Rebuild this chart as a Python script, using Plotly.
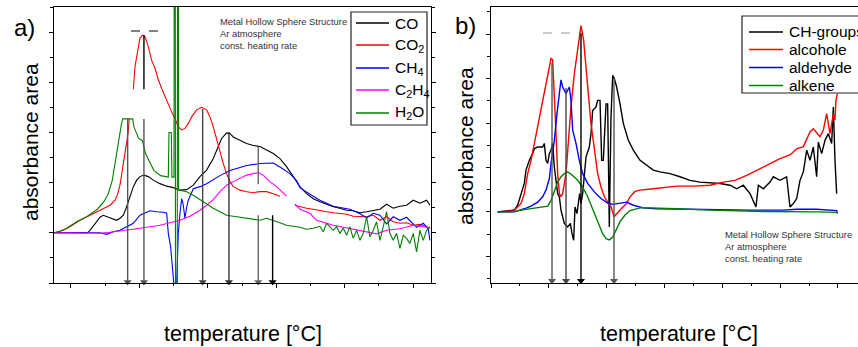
import plotly.graph_objects as go

W, H = 858, 347

# ---------------- panel a) : temperature [°C] , absorbance area [a.u.] ----------------
co_a = [(75.2,0), (123.9,0), (127.8,0.05), (135.1,0.19), (142.4,0.31), (147.2,0.35), (154.5,0.31),
        (161.8,0.27), (166.7,0.25), (171.6,0.29), (176.5,0.35), (181.3,0.52), (186.2,0.72), (191.1,0.92),
        (196,1.05), (200.8,1.12), (206.6,1.15), (213,1.12), (220.3,1.05), (230,0.98), (239.8,0.93),
        (249.5,0.90), (259.2,0.85), (269,0.86), (278.7,0.95), (288.4,1.12), (298.2,1.25), (307.9,1.48),
        (315.2,1.72), (320.1,1.88), (327.4,1.99), (332.3,1.98), (337.1,1.91), (346.9,1.85), (356.6,1.78),
        (366.3,1.74), (376.1,1.72), (385.8,1.65), (395.6,1.58), (405.3,1.48), (415,1.32), (424.8,1.12),
        (434.5,0.92), (444.2,0.78), (454,0.68), (463.7,0.62), (473.5,0.57), (483.2,0.52), (492.9,0.49),
        (502.7,0.45), (512.4,0.44), (522.2,0.40), (531.9,0.42), (541.6,0.45), (551.4,0.47), (561.1,0.57),
        (570.8,0.49), (580.6,0.53), (590.3,0.55), (600.1,0.65), (609.8,0.59), (619.6,0.65), (624.4,0.55)]

co2_a = [(75.2,0), (88.8,0.05), (98.5,0.12), (113.2,0.25), (127.8,0.35), (142.4,0.45), (157,0.55),
         (164.3,0.65), (167.7,0.75), (171.6,0.95), (175,1.24), (179.9,1.64), (183.3,1.97), (185.2,2.27),
         (188,None), (191.1,2.86), (193.5,3.31), (196.9,3.58), (200.8,3.88), (204.7,3.94), (208.1,3.91),
         (213,3.71), (217.8,3.44), (222.7,3.28), (227.6,3.05), (232.4,2.88), (237.3,2.71), (242.2,2.58),
         (247,2.41), (251.9,2.28), (256.8,2.11), (261.7,2.05), (266.5,2.08), (271.4,2.18), (276.3,2.31),
         (283.6,2.45), (290.9,2.50), (298.2,2.45), (303,2.31), (307.9,2.11), (312.8,1.85), (317.7,1.58),
         (322.5,1.38), (327.4,1.18), (332.3,1.02), (337.1,0.92), (346.9,0.85), (356.6,0.82), (366.3,0.80),
         (376.1,0.82), (385.8,0.82), (395.6,0.78), (405.3,0.73), (416,None), (427.2,0.55), (434.5,0.52),
         (444.2,0.49), (454,0.47), (463.7,0.44), (473.5,0.42), (483.2,0.40), (492.9,0.39), (502.7,0.37),
         (512.4,0.33), (522.2,0.32), (531.9,0.32), (541.6,0.35), (551.4,0.25), (561.1,0.32), (570.8,0.22),
         (580.6,0.19), (590.3,0.20), (600.1,0.15), (609.8,0.17), (619.6,0.12), (624.4,0.09)]

ch4_a = [(75.2,0), (142.4,0), (152.1,-0.03), (161.8,0.02), (171.6,0.05), (181.3,0.12), (191.1,0.19),
         (200.8,0.35), (210.5,0.42), (215.4,0.44), (225.1,0.42), (234.9,0.41), (239.8,0.39), (242.2,-0.01),
         (245.6,-0.28), (248,-0.61), (250.5,-1.05), (254.4,-1.05), (256.8,-0.01), (259.2,0.39), (261.7,0.68),
         (264.1,0.55), (266.5,0.29), (269,0.51), (271.4,0.65), (278.7,0.88), (288.4,0.92), (298.2,0.98),
         (317.7,1.14), (332.3,1.24), (356.6,1.34), (376.1,1.38), (395.6,1.39), (405.3,1.31), (419.9,1.18),
         (429.6,1.04), (434.5,0.90), (449.1,0.77), (463.7,0.65), (483.2,0.53), (507.5,0.47), (522.2,0.38),
         (531.9,0.30), (541.6,0.39), (551.4,0.35), (561.1,0.18), (570.8,0.32), (580.6,0.25), (590.3,0.31),
         (604.9,0.11), (614.7,0.19), (622,0.08), (624.4,-0.15)]

c2h4_a = [(75.2,0), (118,0), (142.4,-0.01), (157,0.01), (171.6,0.03), (191.1,0.07), (210.5,0.11),
          (230,0.15), (244.6,0.20), (259.2,0.25), (273.8,0.33), (288.4,0.45), (298.2,0.55), (307.9,0.66),
          (317.7,0.82), (327.4,0.95), (337.1,1.02), (346.9,1.08), (356.6,1.15), (366.3,1.18), (373.6,1.20),
          (380.9,1.15), (390.7,1.02), (400.4,0.92), (410.2,0.78), (415,0.73), (421,None), (427.2,0.57),
          (434.5,0.47), (449.1,0.39), (458.9,0.25), (483.2,0.15), (507.5,0.08), (531.9,0.01), (546.5,-0.02),
          (561.1,0.05), (580.6,0.08), (600.1,0.15), (619.6,0.11), (624.4,0.10)]

h2o_a = [(75.2,0), (84,0.03), (93.7,0.09), (108.3,0.22), (122.9,0.32), (138.5,0.47), (148.2,0.62),
         (154.5,0.78), (160.4,1.05), (164.3,1.38), (167.7,1.72), (170.6,1.98), (173.5,2.15), (175.5,2.27),
         (190.1,2.27), (192,2.11), (198.9,1.88), (204.2,1.84), (209,1.58), (213.9,1.44), (221.2,1.24),
         (231,1.14), (240.7,1.11), (242.2,1.11), (243.2,2.00), (246.6,2.00), (247.5,1.11), (250.5,1.11),
         (250.8,4.8), (252.4,4.8), (252.7,-1.2), (255.3,-1.2), (255.6,4.8), (257.0,4.8), (257.3,0.85),
         (269,0.82), (278.7,0.75), (288.4,0.66), (298.2,0.57), (307.9,0.49),
         (317.7,0.42), (327.4,0.35), (337.1,0.33), (346.9,0.31), (356.6,0.29), (366.3,0.28), (376.1,0.25),
         (385.8,0.29), (395.6,0.25), (405.3,0.20), (415,0.15), (424.8,0.13), (434.5,0.11), (444.2,0.07),
         (454,0.09), (463.7,0.13), (468.6,0.02), (473.5,0.19), (483.2,0.05), (488.1,0.12), (492.9,-0.01),
         (497.8,0.09), (502.7,-0.05), (507.5,0.12), (512.4,-0.11), (517.3,0.05), (522.2,-0.15), (527,-0.01),
         (531.9,0.32), (536.8,-0.08), (541.6,0.05), (546.5,0.22), (551.4,-0.15), (556.2,0.12), (561.1,0.42),
         (566,-0.01), (570.8,-0.15), (575.7,-0.01), (580.6,-0.31), (585.5,-0.05), (590.3,-0.11),
         (595.2,-0.21), (600.1,-0.01), (604.9,-0.38), (609.8,0.05), (614.7,-0.15), (619.6,0.05), (624.4,0.12)]

# peak markers (temperature, top of arrow) in panel a
arrows_a_x = [182.8, 206.6, 292.4, 330.8, 373.6, 394.6]
arrows_a_top = [2.27, 2.27, 2.47, 2.01, 0.35, 0.35]
arrows_a_col = ['#555555', '#555555', '#444444', '#333333', '#666666', '#000000']
arrow_tip_a = -0.98
extra_seg_a = [(206.6, 3.94, 2.86, '#000000'), (373.6, 1.71, 0.97, '#666666')]

# ---------------- panel b) ----------------
ch_b = [(11.5,0), (40.3,0.04), (46.1,0.15), (51.9,0.41), (57.6,0.64), (60.5,0.94), (66.3,1.16), (72,1.31),
        (74.9,1.42), (80.7,1.46), (89.3,1.46), (92.2,1.54), (95.1,1.16), (98,1.09), (100.9,1.31), (103.8,1.39),
        (106.6,1.54), (109.5,1.01), (115.3,0.41), (118.2,0.34), (121,0.04), (123.9,-0.11), (126.8,-0.26),
        (132.6,-0.34), (137.2,-0.26), (140.1,-0.49), (142.9,-0.64), (145.3,0.11), (148.7,-0.04), (151,0.19),
        (153.3,0.41), (155.6,0.19), (158.5,0.41), (164.3,1.24), (170,1.46), (172.9,1.76), (175.8,2.28),
        (181.6,2.36), (184.4,2.51), (188.5,2.51), (191.4,1.16), (194.2,1.16), (198.9,2.43), (201.7,2.43),
        (204.6,-0.34), (207.5,2.13), (210.4,3.07), (213.2,3.00), (217.3,2.81), (223.1,2.43), (228.8,1.99),
        (237.5,1.61), (246.1,1.39), (257.7,1.16), (269.2,1.05), (280.7,0.94), (292.2,0.90), (309.5,0.86),
        (326.8,0.79), (344.1,0.71), (361.4,0.67), (378.7,0.66), (396,0.64), (413.3,0.60), (424.8,0.52),
        (436.3,0.60), (447.9,0.41), (458.2,0.11), (462.3,0.60), (470.9,0.52), (482.4,0.67), (488.2,0.79),
        (499.7,0.71), (511.2,0.79), (517,0.11), (522.8,0.19), (528.6,0.30), (534.3,0.71), (540.1,0.90),
        (545.9,1.39), (551.6,1.16), (557.4,1.46), (563.1,0.79), (566,1.57), (571.8,1.31), (577.5,1.61),
        (583.3,1.76), (589,1.54), (592,2.36), (594.8,1.16), (597.7,0.41)]

alcohole_b = [(11.5,0), (34.6,0.02), (43.2,0.07), (51.9,0.19), (57.6,0.41), (63.4,0.86), (69.2,1.16),
              (74.9,1.54), (80.7,1.99), (86.5,2.36), (92.2,2.73), (98,3.11), (103.8,3.45), (106.6,3.42),
              (109.5,2.73), (112.4,1.76), (115.3,0.86), (118.2,0.41), (121,0.34), (123.9,0.41), (129.7,0.86),
              (133.7,1.61), (138.3,2.36), (144.1,3.11), (148.7,3.56), (152.7,3.93), (155.6,4.19), (160.2,3.86),
              (164.3,3.18), (168.3,2.66), (172.9,1.99), (178.7,1.39), (184.4,0.86), (190.2,0.56), (196,0.34),
              (201.7,0.22), (207.5,0.12), (212.7,-0.11), (217.3,-0.04), (226,0.08), (234.6,0.19), (240.4,0.34),
              (249,0.46), (257.7,0.49), (280.7,0.52), (298,0.55), (321.1,0.58), (349.9,0.58), (378.7,0.60),
              (401.7,0.67), (421.9,0.71), (442.1,0.82), (470.9,1.01), (499.7,1.20), (517,1.28), (528.6,1.42),
              (540.1,1.47), (551.6,1.80), (557.4,1.87), (563.1,1.77), (568.9,1.69), (574.7,1.84), (580.4,2.21),
              (586.2,1.76), (592,2.21), (594.8,2.07), (596.6,2.52), (598.9,2.66)]

aldehyde_b = [(11.5,0), (40.3,0), (57.6,0.07), (69.2,0.13), (80.7,0.22), (89.3,0.34), (95.1,0.49),
              (100.9,0.75), (103.8,1.09), (109.5,1.61), (114.1,2.21), (118.2,2.66), (121,2.97), (123.9,2.81),
              (129.7,2.66), (135.5,2.81), (138.3,2.51), (141.2,1.84), (147,1.54), (152.7,1.16), (158.5,0.86),
              (167.2,0.64), (178.7,0.45), (190.2,0.30), (201.7,0.20), (210.4,0.17), (223.1,0.20), (234.6,0.22),
              (246.1,0.15), (263.4,0.09), (286.5,0.07), (332.6,0.06), (390.2,0.04), (447.9,0.04), (505.5,0.04),
              (528.6,0.06), (563.1,0.06), (586.2,0.04), (597.7,0.03), (598.9,-0.04)]

alkene_b = [(11.5,0), (34.6,0), (57.6,0.05), (80.7,0.09), (98,0.13), (103.8,0.26), (109.5,0.49), (115.3,0.67),
            (121,0.79), (126.8,0.86), (132.6,0.90), (141.2,0.82), (149.9,0.71), (158.5,0.56), (167.2,0.34),
            (175.8,0.07), (184.4,-0.19), (193.1,-0.49), (198.9,-0.60), (204.6,-0.63), (210.4,-0.57),
            (216.1,-0.42), (223.1,-0.22), (231.7,-0.07), (240.4,0.03), (257.7,0.09), (274.9,0.09), (321.1,0.07),
            (378.7,0.04), (470.9,0.01), (528.6,0.01), (563.1,0), (598.9,-0.01)]

arrows_b_x = [105.5, 129.7, 155.6, 212.7]
arrows_b_top = [3.35, 2.79, 4.02, 3.01]
arrows_b_col = ['#555555', '#444444', '#000000', '#555555']
arrow_tip_b = -1.55

names_a = ['CO', 'CO<sub>2</sub>', 'CH<sub>4</sub>', 'C<sub>2</sub>H<sub>4</sub>', 'H<sub>2</sub>O']
names_b = ['CH-groups', 'alcohole', 'aldehyde', 'alkene']
info_text = 'Metal Hollow Sphere Structure<br>Ar atmosphere<br>const. heating rate'

FONT = 'Liberation Sans, Arial, sans-serif'

series_a = [(co_a, '#000000'), (co2_a, '#ff0000'), (ch4_a, '#0000ff'), (c2h4_a, '#ff00ff'), (h2o_a, '#008000')]
series_b = [(ch_b, '#000000'), (alcohole_b, '#ff0000'), (aldehyde_b, '#0000ff'), (alkene_b, '#008000')]

fig = go.Figure()
for (pts, col), nm in zip(series_a, names_a):
    fig.add_trace(go.Scatter(x=[p[0] for p in pts], y=[p[1] for p in pts], mode='lines', name=nm,
                             line=dict(color=col, width=1.1), xaxis='x', yaxis='y',
                             showlegend=False, connectgaps=False))
for (pts, col), nm in zip(series_b, names_b):
    fig.add_trace(go.Scatter(x=[p[0] for p in pts], y=[p[1] for p in pts], mode='lines', name=nm,
                             line=dict(color=col, width=1.4), xaxis='x2', yaxis='y2',
                             showlegend=False))


def P(xp):
    return xp / W


def Q(yp):
    return 1 - yp / H


ann = []
shapes = []

# arrows (peak markers): shaft as line, head as triangle marker
for xa, top, col in zip(arrows_a_x, arrows_a_top, arrows_a_col):
    shapes.append(dict(type='line', xref='x', yref='y', x0=xa, x1=xa, y0=top, y1=arrow_tip_a,
                       line=dict(color=col, width=1.4)))
for xa, y0, y1, col in extra_seg_a:
    shapes.append(dict(type='line', xref='x', yref='y', x0=xa, x1=xa, y0=y0, y1=y1,
                       line=dict(color=col, width=1.4)))
fig.add_trace(go.Scatter(x=arrows_a_x, y=[arrow_tip_a] * len(arrows_a_x), mode='markers',
                         marker=dict(symbol='triangle-down', size=7, color=arrows_a_col, line=dict(width=0)),
                         xaxis='x', yaxis='y', showlegend=False, hoverinfo='skip', cliponaxis=False))
for xa, top, col in zip(arrows_b_x, arrows_b_top, arrows_b_col):
    shapes.append(dict(type='line', xref='x2', yref='y2', x0=xa, x1=xa, y0=top, y1=arrow_tip_b,
                       line=dict(color=col, width=1.4)))
fig.add_trace(go.Scatter(x=arrows_b_x, y=[arrow_tip_b] * len(arrows_b_x), mode='markers',
                         marker=dict(symbol='triangle-down', size=7, color=arrows_b_col, line=dict(width=0)),
                         xaxis='x2', yaxis='y2', showlegend=False, hoverinfo='skip', cliponaxis=False))

# small dashed marks near the top
shapes.append(dict(type='line', xref='paper', yref='paper', x0=P(131), x1=P(159), y0=Q(31), y1=Q(31),
                   line=dict(color='#000000', width=1, dash='dash')))
shapes.append(dict(type='line', xref='paper', yref='paper', x0=P(543), x1=P(573), y0=Q(33), y1=Q(33),
                   line=dict(color='#999999', width=1, dash='dash')))

C = dict(xanchor='center', yanchor='middle', showarrow=False, xref='paper', yref='paper')
ann += [
    dict(x=P(24), y=Q(27), text='a)', font=dict(size=24, family=FONT, color='black'), **C),
    dict(x=P(465), y=Q(26), text='b)', font=dict(size=24, family=FONT, color='black'), **C),
    dict(x=P(30), y=Q(142), text='absorbance area', textangle=-90,
         font=dict(size=21, family=FONT, color='black'), **C),
    dict(x=P(465), y=Q(146), text='absorbance area', textangle=-90,
         font=dict(size=21, family=FONT, color='black'), **C),
    dict(x=P(242.5), y=Q(334), text='temperature [°C]', font=dict(size=21.5, family=FONT, color='black'), **C),
    dict(x=P(679), y=Q(334), text='temperature [°C]', font=dict(size=21.5, family=FONT, color='black'), **C),
    dict(x=P(217.5), y=Q(33.5), text=info_text, align='left', xanchor='left', yanchor='middle',
         showarrow=False, xref='paper', yref='paper', font=dict(size=9.4, family=FONT, color='#333333')),
    dict(x=P(722.5), y=Q(246.5), text=info_text, align='left', xanchor='left', yanchor='middle',
         showarrow=False, xref='paper', yref='paper', font=dict(size=9.4, family=FONT, color='#333333')),
]

# legend a (drawn)
shapes.append(dict(type='rect', xref='paper', yref='paper', x0=P(351), x1=P(427), y0=Q(125), y1=Q(12),
                   line=dict(color='#222222', width=1.2), fillcolor='white', layer='above'))
leg_a_y = [23, 45, 68, 90, 113]
for (pts, col), nm, yy in zip(series_a, names_a, leg_a_y):
    shapes.append(dict(type='line', xref='paper', yref='paper', x0=P(356), x1=P(389), y0=Q(yy), y1=Q(yy),
                       line=dict(color=col, width=1.5), layer='above'))
    ann.append(dict(x=P(393), y=Q(yy), xref='paper', yref='paper', text=nm, showarrow=False,
                    xanchor='left', yanchor='middle', font=dict(size=15.5, family=FONT, color='black')))

# legend b (drawn, runs off the right edge)
shapes.append(dict(type='rect', xref='paper', yref='paper', x0=P(742), x1=P(900), y0=Q(93), y1=Q(16),
                   line=dict(color='#222222', width=1.2), fillcolor='white', layer='above'))
leg_b_y = [32, 49.5, 67.5, 85.5]
for (pts, col), nm, yy in zip(series_b, names_b, leg_b_y):
    shapes.append(dict(type='line', xref='paper', yref='paper', x0=P(749), x1=P(783), y0=Q(yy), y1=Q(yy),
                       line=dict(color=col, width=1.5), layer='above'))
    ann.append(dict(x=P(787), y=Q(yy), xref='paper', yref='paper', text=nm, showarrow=False,
                    xanchor='left', yanchor='middle', font=dict(size=15.5, family=FONT, color='black')))

axis_common = dict(showticklabels=False, ticks='outside', ticklen=4, tickwidth=1, tickcolor='black',
                   showline=True, linecolor='black', linewidth=1.2, showgrid=False, zeroline=False)

fig.update_layout(
    width=W, height=H, margin=dict(l=0, r=0, t=0, b=0, autoexpand=False),
    paper_bgcolor='white', plot_bgcolor='white', showlegend=False,
    xaxis=dict(domain=[P(54), P(431)], range=[75.2, 626], anchor='y', mirror=True, tick0=0, dtick=100,
               minor=dict(ticks='outside', ticklen=2, dtick=50, tick0=0, tickcolor='black', showgrid=False),
               **axis_common),
    yaxis=dict(domain=[Q(283), Q(7)], range=[-1, 4.5], anchor='x', mirror='ticks', tick0=0, dtick=1,
               minor=dict(ticks='outside', ticklen=2.5, dtick=0.5, tick0=0, tickcolor='black', showgrid=False),
               **axis_common),
    xaxis2=dict(domain=[P(491), 1.0], range=[0, 634.6], anchor='y2', mirror=True, tick0=0, dtick=100,
                minor=dict(ticks='outside', ticklen=2, dtick=50, tick0=0, tickcolor='black', showgrid=False),
                **axis_common),
    yaxis2=dict(domain=[Q(283), Q(7)], range=[-1.6, 4.61], anchor='x2', mirror=False, tick0=0, dtick=1,
                minor=dict(ticks='outside', ticklen=2.5, dtick=0.5, tick0=0, tickcolor='black', showgrid=False),
                **axis_common),
    annotations=ann, shapes=shapes,
)

fig.write_html('out.html')
